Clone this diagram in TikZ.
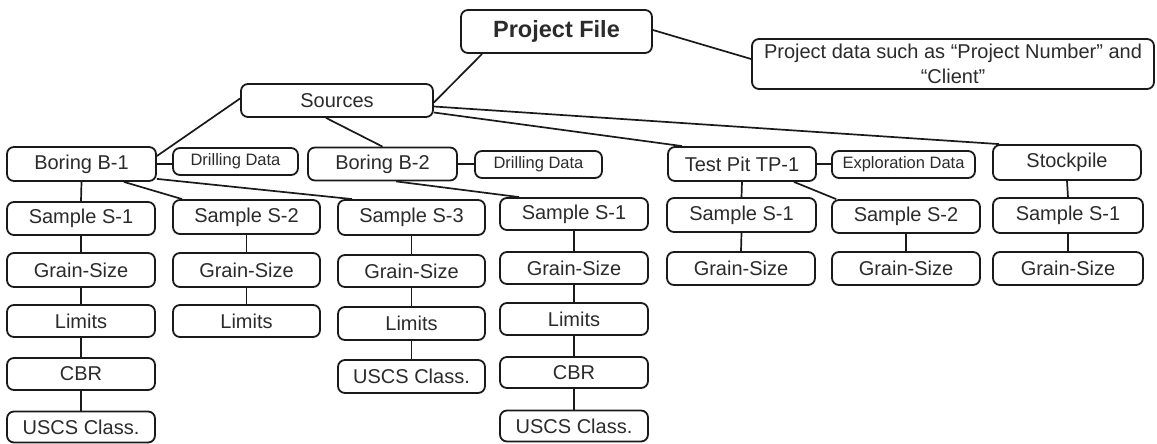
\documentclass[tikz,border=0pt]{standalone}
\usepackage{fontspec}
\setmainfont{Liberation Sans}
\usetikzlibrary{calc}
\definecolor{ln}{HTML}{1A1A1A}
\definecolor{tx}{HTML}{2B2B2B}
\begin{document}
\begin{tikzpicture}[x=1pt,y=-1pt,
  box/.style={draw=ln, line width=1.8pt, rounded corners=7pt, text=tx, inner sep=0pt,
    minimum width=148pt, minimum height=33pt, font=\fontsize{20}{24}\selectfont},
  small/.style={box, minimum height=27pt, font=\fontsize{16.5}{20}\selectfont},
  conn/.style={draw=ln, line width=1.7pt}]
\useasboundingbox[fill=white] (0,0) rectangle (1157,444);

% top
\node[box, minimum width=191pt, minimum height=43pt, font=\fontsize{23.5}{28}\selectfont\bfseries] (pf) at (556.5,31.5) {Project File};
\node[box, minimum width=402pt, minimum height=50pt, align=center, font=\fontsize{20}{25}\selectfont] (note) at (953,64) {Project data such as “Project Number” and\\“Client”};
\node[box, minimum width=192pt] (src) at (337,100.5) {Sources};

% sources row
\node[box, minimum width=149pt, minimum height=34pt] (b1) at (81.5,164) {Boring B-1};
\node[small, minimum width=125pt] (dd1) at (235.5,161.5) {Drilling Data};
\node[box, minimum width=149pt] (b2) at (382.5,164) {Boring B-2};
\node[small, minimum width=127pt] (dd2) at (538.5,164.5) {Drilling Data};
\node[box, minimum height=34pt] (tp) at (742,164) {Test Pit TP-1};
\node[small, minimum width=143pt] (ex) at (903.5,164.5) {Exploration Data};
\node[box, minimum height=35pt] (sp) at (1067,162.5) {Stockpile};

% samples
\node[box] (a1) at (81,218.5) {Sample S-1};
\node[box, minimum width=147pt, minimum height=34pt] (a2) at (246.5,217) {Sample S-2};
\node[box, minimum width=147pt, minimum height=35pt] (a3) at (411.5,217.5) {Sample S-3};
\node[box, minimum height=32pt] (d1) at (574,214) {Sample S-1};
\node[box, minimum width=149pt, minimum height=34pt] (t1) at (741.5,215) {Sample S-1};
\node[box] (t2) at (906,216.5) {Sample S-2};
\node[box, minimum width=150pt, minimum height=35pt] (s1) at (1068,215.5) {Sample S-1};

% grain size
\node[box, minimum height=34pt] (ag) at (81,270) {Grain-Size};
\node[box, minimum width=147pt, minimum height=34pt] (bg) at (246.5,270) {Grain-Size};
\node[box, minimum width=147pt, minimum height=32pt] (cg) at (411.5,271) {Grain-Size};
\node[box, minimum height=32pt] (dg) at (574,268) {Grain-Size};
\node[box] (tg) at (741,268.5) {Grain-Size};
\node[box] (ug) at (906,268.5) {Grain-Size};
\node[box, minimum width=150pt] (sg) at (1068,268.5) {Grain-Size};

% limits
\node[box, minimum height=32pt] (al) at (81,321) {Limits};
\node[box, minimum width=147pt, minimum height=32pt] (bl) at (246.5,321) {Limits};
\node[box, minimum width=147pt] (cl) at (411.5,323.5) {Limits};
\node[box, minimum height=32pt] (dl) at (574,319) {Limits};

% CBR / USCS
\node[box, minimum height=32pt] (ac) at (81,374) {CBR};
\node[box, minimum width=147pt] (cu) at (411.5,376.5) {USCS Class.};
\node[box, minimum height=31pt] (dc) at (574,372.5) {CBR};
\node[box, minimum height=31pt] (au) at (81,427) {USCS Class.};
\node[box, minimum height=31pt] (du) at (574,426) {USCS Class.};

% connectors from top
\draw[conn] ([yshift=1.5pt]pf.east) -- ([yshift=5pt]note.west);
\draw[conn] ([xshift=22pt]pf.south west) -- ([yshift=-2pt]src.east);
\draw[conn] ([yshift=2pt]src.west) -- ([yshift=8pt]b1.east);
\draw[conn] ([xshift=-11pt]src.south) -- (b2.north);
\draw[conn] ([yshift=-12pt]src.east) -- ([xshift=15pt]tp.north west);
\draw[conn] ([yshift=-6pt]src.east) -- ([xshift=7pt]sp.north west);

% side data
\draw[conn] (b1.east) -- (b1.east -| dd1.west);
\draw[conn] (b2.east) -- (b2.east -| dd2.west);
\draw[conn] (tp.east) -- (tp.east -| ex.west);

% boring B-1
\draw[conn] (b1.south) -- (a1.north);
\draw[conn] ([xshift=-33pt]b1.south east) -- ([xshift=10pt]a2.north west);
\draw[conn] ([yshift=3pt]b1.south east) -- ([xshift=15pt]a3.north west);
\draw[conn] (a1.south) -- (ag.north);
\draw[conn] (ag.south) -- (al.north);
\draw[conn] (al.south) -- (ac.north);
\draw[conn] (ac.south) -- (au.north);
\draw[conn] (a2.south) -- (bg.north);
\draw[conn] (bg.south) -- (bl.north);
\draw[conn] (a3.south) -- (cg.north);
\draw[conn] (cg.south) -- (cl.north);
\draw[conn] (cl.south) -- (cu.north);

% boring B-2
\draw[conn] ([xshift=89pt]b2.south west) -- ([xshift=20pt]d1.north west);
\draw[conn] (d1.south) -- (dg.north);
\draw[conn] (dg.south) -- (dl.north);
\draw[conn] (dl.south) -- (dc.north);
\draw[conn] (dc.south) -- (du.north);

% test pit
\draw[conn] (tp.south) -- (t1.north);
\draw[conn] ([xshift=-23pt]tp.south east) -- ([xshift=5pt]t2.north west);
\draw[conn] (t1.south) -- (tg.north);
\draw[conn] (t2.south) -- (ug.north);

% stockpile
\draw[conn] (sp.south) -- (s1.north);
\draw[conn] (s1.south) -- (sg.north);
\end{tikzpicture}
\end{document}
